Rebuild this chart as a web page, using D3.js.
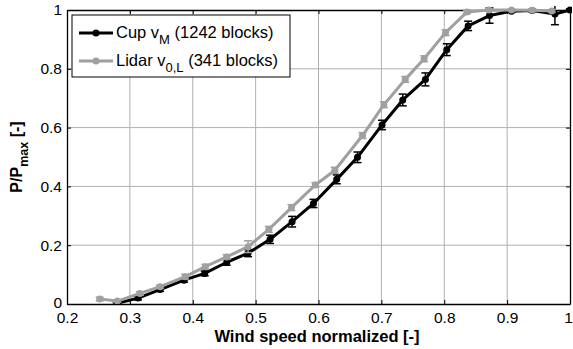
<!DOCTYPE html>
<html>
<head>
<meta charset="utf-8">
<script src="https://cdn.jsdelivr.net/npm/d3@7"></script>
<style>
  body { margin: 0; background: #fff; }
  svg { display: block; font-family: Arial, "Liberation Sans", sans-serif; }
</style>
</head>
<body>
<svg id="chart" width="573" height="349"></svg>
<script>
// wind speed bins (normalized)
const cupX = [0.279, 0.313, 0.348, 0.386, 0.419, 0.454, 0.488, 0.523, 0.558, 0.592, 0.629, 0.662, 0.701, 0.734, 0.770, 0.804, 0.838, 0.872, 0.907, 0.940, 0.976, 1.0];
const cupY = [0.002, 0.020, 0.049, 0.081, 0.104, 0.142, 0.173, 0.220, 0.280, 0.342, 0.424, 0.499, 0.609, 0.694, 0.764, 0.865, 0.946, 0.981, 0.996, 0.998, 0.986, 1.0];
const cupErr = [0.004, 0.006, 0.006, 0.007, 0.008, 0.010, 0.012, 0.014, 0.018, 0.014, 0.015, 0.018, 0.016, 0.020, 0.022, 0.020, 0.016, 0.026, 0.004, 0.004, 0.036, 0.004];

const lidarX = [0.252, 0.280, 0.316, 0.348, 0.388, 0.420, 0.454, 0.488, 0.521, 0.557, 0.595, 0.626, 0.670, 0.704, 0.738, 0.768, 0.802, 0.836, 0.871, 0.907, 0.940, 0.971];
const lidarY = [0.017, 0.010, 0.036, 0.059, 0.093, 0.127, 0.160, 0.195, 0.254, 0.328, 0.405, 0.455, 0.573, 0.678, 0.764, 0.834, 0.923, 0.993, 1.0, 1.0, 0.999, 0.997];
const lidarErr = [0.006, 0.004, 0.006, 0.005, 0.008, 0.008, 0.008, 0.020, 0.010, 0.010, 0.008, 0.010, 0.010, 0.010, 0.010, 0.010, 0.010, 0.006, 0.003, 0.003, 0.003, 0.004];

const xTicks = [0.2, 0.3, 0.4, 0.5, 0.6, 0.7, 0.8, 0.9, 1];
const yTicks = [0, 0.2, 0.4, 0.6, 0.8, 1];

const margin = { left: 67, right: 3, top: 10, bottom: 45 };
const width = 573, height = 349;
const svg = d3.select("#chart");

const x = d3.scaleLinear().domain([0.2, 1]).range([margin.left, width - margin.right]);
const y = d3.scaleLinear().domain([0, 1]).range([height - margin.bottom, margin.top]);

// grid
svg.append("g").selectAll("line.gx")
  .data(xTicks.slice(1, -1)).enter().append("line")
  .attr("x1", d => x(d)).attr("x2", d => x(d))
  .attr("y1", y(0)).attr("y2", y(1))
  .attr("stroke", "#b0b0b0").attr("stroke-width", 1);
svg.append("g").selectAll("line.gy")
  .data(yTicks.slice(1, -1)).enter().append("line")
  .attr("x1", x(0.2)).attr("x2", x(1))
  .attr("y1", d => y(d)).attr("y2", d => y(d))
  .attr("stroke", "#b0b0b0").attr("stroke-width", 1);

// axes with inward ticks, MATLAB style
const tickFmt = d => d === 0 || d === 1 ? String(d) : d.toFixed(1);
const xAxis = svg.append("g")
  .attr("transform", `translate(0,${y(0)})`)
  .call(d3.axisBottom(x).tickValues(xTicks).tickFormat(tickFmt).tickSizeInner(-4).tickSizeOuter(0).tickPadding(7));
const yAxis = svg.append("g")
  .attr("transform", `translate(${x(0.2)},0)`)
  .call(d3.axisLeft(y).tickValues(yTicks).tickFormat(tickFmt).tickSizeInner(-4).tickSizeOuter(0).tickPadding(5));
svg.append("g")
  .attr("transform", `translate(0,${y(1)})`)
  .call(d3.axisTop(x).tickValues(xTicks).tickFormat("").tickSizeInner(-4).tickSizeOuter(0));
svg.append("g")
  .attr("transform", `translate(${x(1)},0)`)
  .call(d3.axisRight(y).tickValues(yTicks).tickFormat("").tickSizeInner(-4).tickSizeOuter(0));

svg.selectAll(".domain").attr("stroke", "#000").attr("stroke-width", 1.3);
svg.selectAll(".tick line").attr("stroke", "#000");
svg.selectAll(".tick text").attr("font-size", 15.5).attr("fill", "#000")
  .attr("font-family", "Arial, 'Liberation Sans', sans-serif");
xAxis.selectAll(".tick text").attr("dy", "0.75em")
  .attr("dx", d => d === 1 ? -2 : 0);
yAxis.selectAll(".tick text").attr("dy", d => d === 0 ? "0.2em" : "0.32em");

// clip
svg.append("clipPath").attr("id", "plotclip").append("rect")
  .attr("x", x(0.2)).attr("y", y(1) - 4)
  .attr("width", x(1) - x(0.2) + 2).attr("height", y(0) - y(1) + 4);

const plot = svg.append("g").attr("clip-path", "url(#plotclip)");

function drawSeries(xs, ys, errs, color) {
  const pts = xs.map((d, i) => ({ x: d, y: ys[i], e: errs[i] }));
  const g = plot.append("g");
  g.append("path").datum(pts)
    .attr("fill", "none").attr("stroke", color).attr("stroke-width", 3)
    .attr("stroke-linejoin", "round")
    .attr("d", d3.line().x(d => x(d.x)).y(d => y(d.y)));
  const eb = g.selectAll("g.eb").data(pts).enter().append("g")
    .attr("stroke", color).attr("stroke-width", 1.5);
  eb.append("line")
    .attr("x1", d => x(d.x)).attr("x2", d => x(d.x))
    .attr("y1", d => y(d.y - d.e)).attr("y2", d => y(d.y + d.e));
  eb.append("line")
    .attr("x1", d => x(d.x) - 4).attr("x2", d => x(d.x) + 4)
    .attr("y1", d => y(d.y - d.e)).attr("y2", d => y(d.y - d.e));
  eb.append("line")
    .attr("x1", d => x(d.x) - 4).attr("x2", d => x(d.x) + 4)
    .attr("y1", d => y(d.y + d.e)).attr("y2", d => y(d.y + d.e));
  g.selectAll("circle").data(pts).enter().append("circle")
    .attr("cx", d => x(d.x)).attr("cy", d => y(d.y)).attr("r", 3.5)
    .attr("fill", color);
}

drawSeries(cupX, cupY, cupErr, "#000");
drawSeries(lidarX, lidarY, lidarErr, "#a0a0a0");

// legend
const lg = svg.append("g").attr("transform", "translate(72,15)");
lg.append("rect").attr("width", 218).attr("height", 62)
  .attr("fill", "#fff").attr("stroke", "#000").attr("stroke-width", 1);
const legendItems = [
  { color: "#000", base: "Cup v", sub: "M", rest: " (1242 blocks)", yy: 18 },
  { color: "#a0a0a0", base: "Lidar v", sub: "0,L", rest: " (341 blocks)", yy: 46 }
];
legendItems.forEach(it => {
  lg.append("line").attr("x1", 7).attr("x2", 41).attr("y1", it.yy).attr("y2", it.yy)
    .attr("stroke", it.color).attr("stroke-width", 3);
  lg.append("circle").attr("cx", 24).attr("cy", it.yy).attr("r", 3.5).attr("fill", it.color);
  const t = lg.append("text").attr("x", 44).attr("y", it.yy + 5)
    .attr("font-size", 16.5).attr("fill", "#000");
  t.append("tspan").text(it.base);
  t.append("tspan").attr("dy", 6).attr("font-size", 13).text(it.sub);
  t.append("tspan").attr("dy", -6).text(it.rest);
});

// axis titles
svg.append("text")
  .attr("x", 317).attr("y", 342)
  .attr("text-anchor", "middle").attr("font-size", 16.5).attr("font-weight", "bold")
  .text("Wind speed normalized [-]");

const yl = svg.append("text")
  .attr("transform", `translate(22,${(y(0) + y(1)) / 2}) rotate(-90)`)
  .attr("text-anchor", "middle").attr("font-size", 16).attr("font-weight", "bold");
yl.append("tspan").text("P/P");
yl.append("tspan").attr("dy", 6).attr("font-size", 12.5).text("max");
yl.append("tspan").attr("dy", -6).text(" [-]");
</script>
</body>
</html>
